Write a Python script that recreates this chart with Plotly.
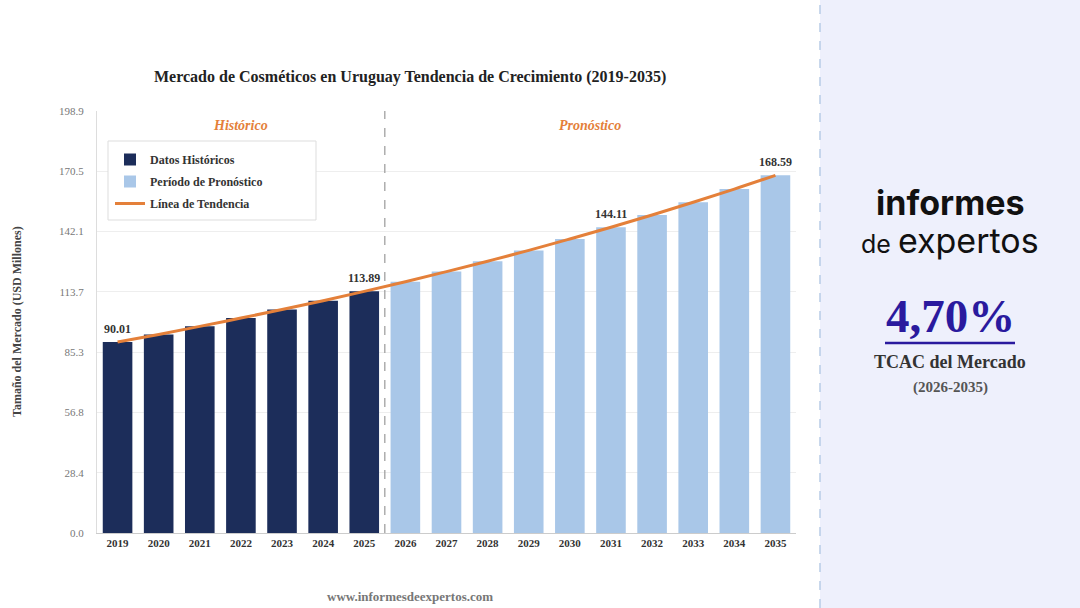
import plotly.graph_objects as go

years_hist = [2019, 2020, 2021, 2022, 2023, 2024, 2025]
vals_hist = [90.01, 93.6, 97.4, 101.3, 105.3, 109.5, 113.89]
years_fc = [2026, 2027, 2028, 2029, 2030, 2031, 2032, 2033, 2034, 2035]
vals_fc = [118.45, 123.2, 128.1, 133.2, 138.6, 144.11, 149.9, 155.9, 162.1, 168.59]
trend_years = years_hist + years_fc
trend_vals = vals_hist + vals_fc
label_years = [2019, 2025, 2031, 2035]
label_vals = [90.01, 113.89, 144.11, 168.59]
ytick_vals = [0.0, 28.4, 56.8, 85.3, 113.7, 142.1, 170.5, 198.9]

SERIF = "Liberation Serif, Times New Roman, serif"
NAVY = "#1c2d5a"
LIGHT = "#a9c7e8"
ORANGE = "#e4803a"

fig = go.Figure()
fig.add_trace(go.Bar(x=years_hist, y=vals_hist, name="<b>Datos Históricos</b>", legendgroup="a",
                     marker=dict(color=NAVY, line=dict(width=0)), width=0.72))
fig.add_trace(go.Bar(x=years_fc, y=vals_fc, name="<b>Período de Pronóstico</b>", legendgroup="b",
                     marker=dict(color=LIGHT, line=dict(width=0)), width=0.72))
fig.add_trace(go.Scatter(x=trend_years, y=trend_vals, name="<b>Línea de Tendencia</b>", legendgroup="c",
                         mode="lines", line=dict(color=ORANGE, width=3, shape="spline")))

for yr, v in zip(label_years, label_vals):
    fig.add_annotation(x=yr, y=v, text=f"<b>{v:.2f}</b>", showarrow=False, xanchor="center",
                       yanchor="bottom", yshift=4, font=dict(family=SERIF, size=12, color="#333"))

# divider between historical and forecast
fig.add_shape(type="line", xref="x", yref="paper", x0=2025.5, x1=2025.5, y0=0, y1=1,
              line=dict(color="#999", width=1.2, dash="dash"))


def px(xp):
    return (xp - 97) / 699


def py(yp):
    return (533 - yp) / 422


def note(xp, yp, text, size, color, family=SERIF, angle=0):
    fig.add_annotation(x=px(xp), y=py(yp), xref="paper", yref="paper", text=text,
                       showarrow=False, xanchor="center", yanchor="middle", textangle=angle,
                       borderpad=0, font=dict(family=family, size=size, color=color))


note(240, 126, "<b><i>Histórico</i></b>", 14, ORANGE)
note(590, 126, "<b><i>Pronóstico</i></b>", 14, ORANGE)

# legend frame
fig.add_shape(type="rect", xref="paper", yref="paper", x0=px(108), x1=px(316), y0=py(220), y1=py(141),
              fillcolor="white", line=dict(color="#dddddd", width=1), layer="above")

# right panel
fig.add_shape(type="rect", xref="paper", yref="paper", x0=px(820), x1=px(1080),
              y0=py(608), y1=py(0), fillcolor="#eef0fc", line=dict(width=0), layer="below")
fig.add_shape(type="line", xref="paper", yref="paper", x0=px(820), x1=px(820),
              y0=py(608), y1=py(0), line=dict(color="#b8cbe6", width=1.5, dash="dash"))

SANS = "Inter, Roboto, sans-serif"
note(950, 202, "<b>informes</b>", 34, "#111", SANS)
note(950, 240, "<span style='font-size:25px'>de </span>expertos", 34, "#111", SANS)
note(950, 316, "<b>4,70%</b>", 47, "#2a1a9e")
fig.add_shape(type="line", xref="paper", yref="paper", x0=px(885), x1=px(1015), y0=py(343), y1=py(343),
              line=dict(color="#2a1a9e", width=2.5))
note(950, 362, "<b>TCAC del Mercado</b>", 18, "#333")
note(950, 387, "<b>(2026-2035)</b>", 15, "#555")

# title, axis title, footer
note(410, 77, "<b>Mercado de Cosméticos en Uruguay Tendencia de Crecimiento (2019-2035)</b>", 16, "#222")
note(17, 322, "<b>Tamaño del Mercado (USD Millones)</b>", 12, "#444", angle=-90)
note(410, 596, "<b>www.informesdeexpertos.com</b>", 13, "#777")

fig.update_layout(
    width=1080, height=608,
    margin=dict(l=97, r=284, t=111, b=75),
    paper_bgcolor="white", plot_bgcolor="white",
    barmode="overlay",
    showlegend=True,
    legend=dict(x=px(110), y=py(145), xanchor="left", yanchor="top",
                bgcolor="rgba(0,0,0,0)", borderwidth=0,
                font=dict(family=SERIF, size=12, color="#333"),
                itemwidth=30, tracegroupgap=3),
    font=dict(family=SERIF),
)
fig.update_xaxes(range=[2018.5, 2035.5], tickmode="array", tickvals=trend_years,
                 ticktext=[f"<b>{y}</b>" for y in trend_years],
                 tickfont=dict(family=SERIF, size=11, color="#333"),
                 showgrid=False, showline=True, linecolor="#cccccc", ticks="", zeroline=False)
fig.update_yaxes(range=[0, 198.9], tickmode="array", tickvals=ytick_vals,
                 ticktext=[f"{v:.1f}" for v in ytick_vals],
                 tickfont=dict(family=SERIF, size=11, color="#777"),
                 showgrid=True, gridcolor="#eeeeee", showline=True, linecolor="#dddddd",
                 zeroline=False, ticks="", ticklabelstandoff=10)

fig.write_html("out.html")
